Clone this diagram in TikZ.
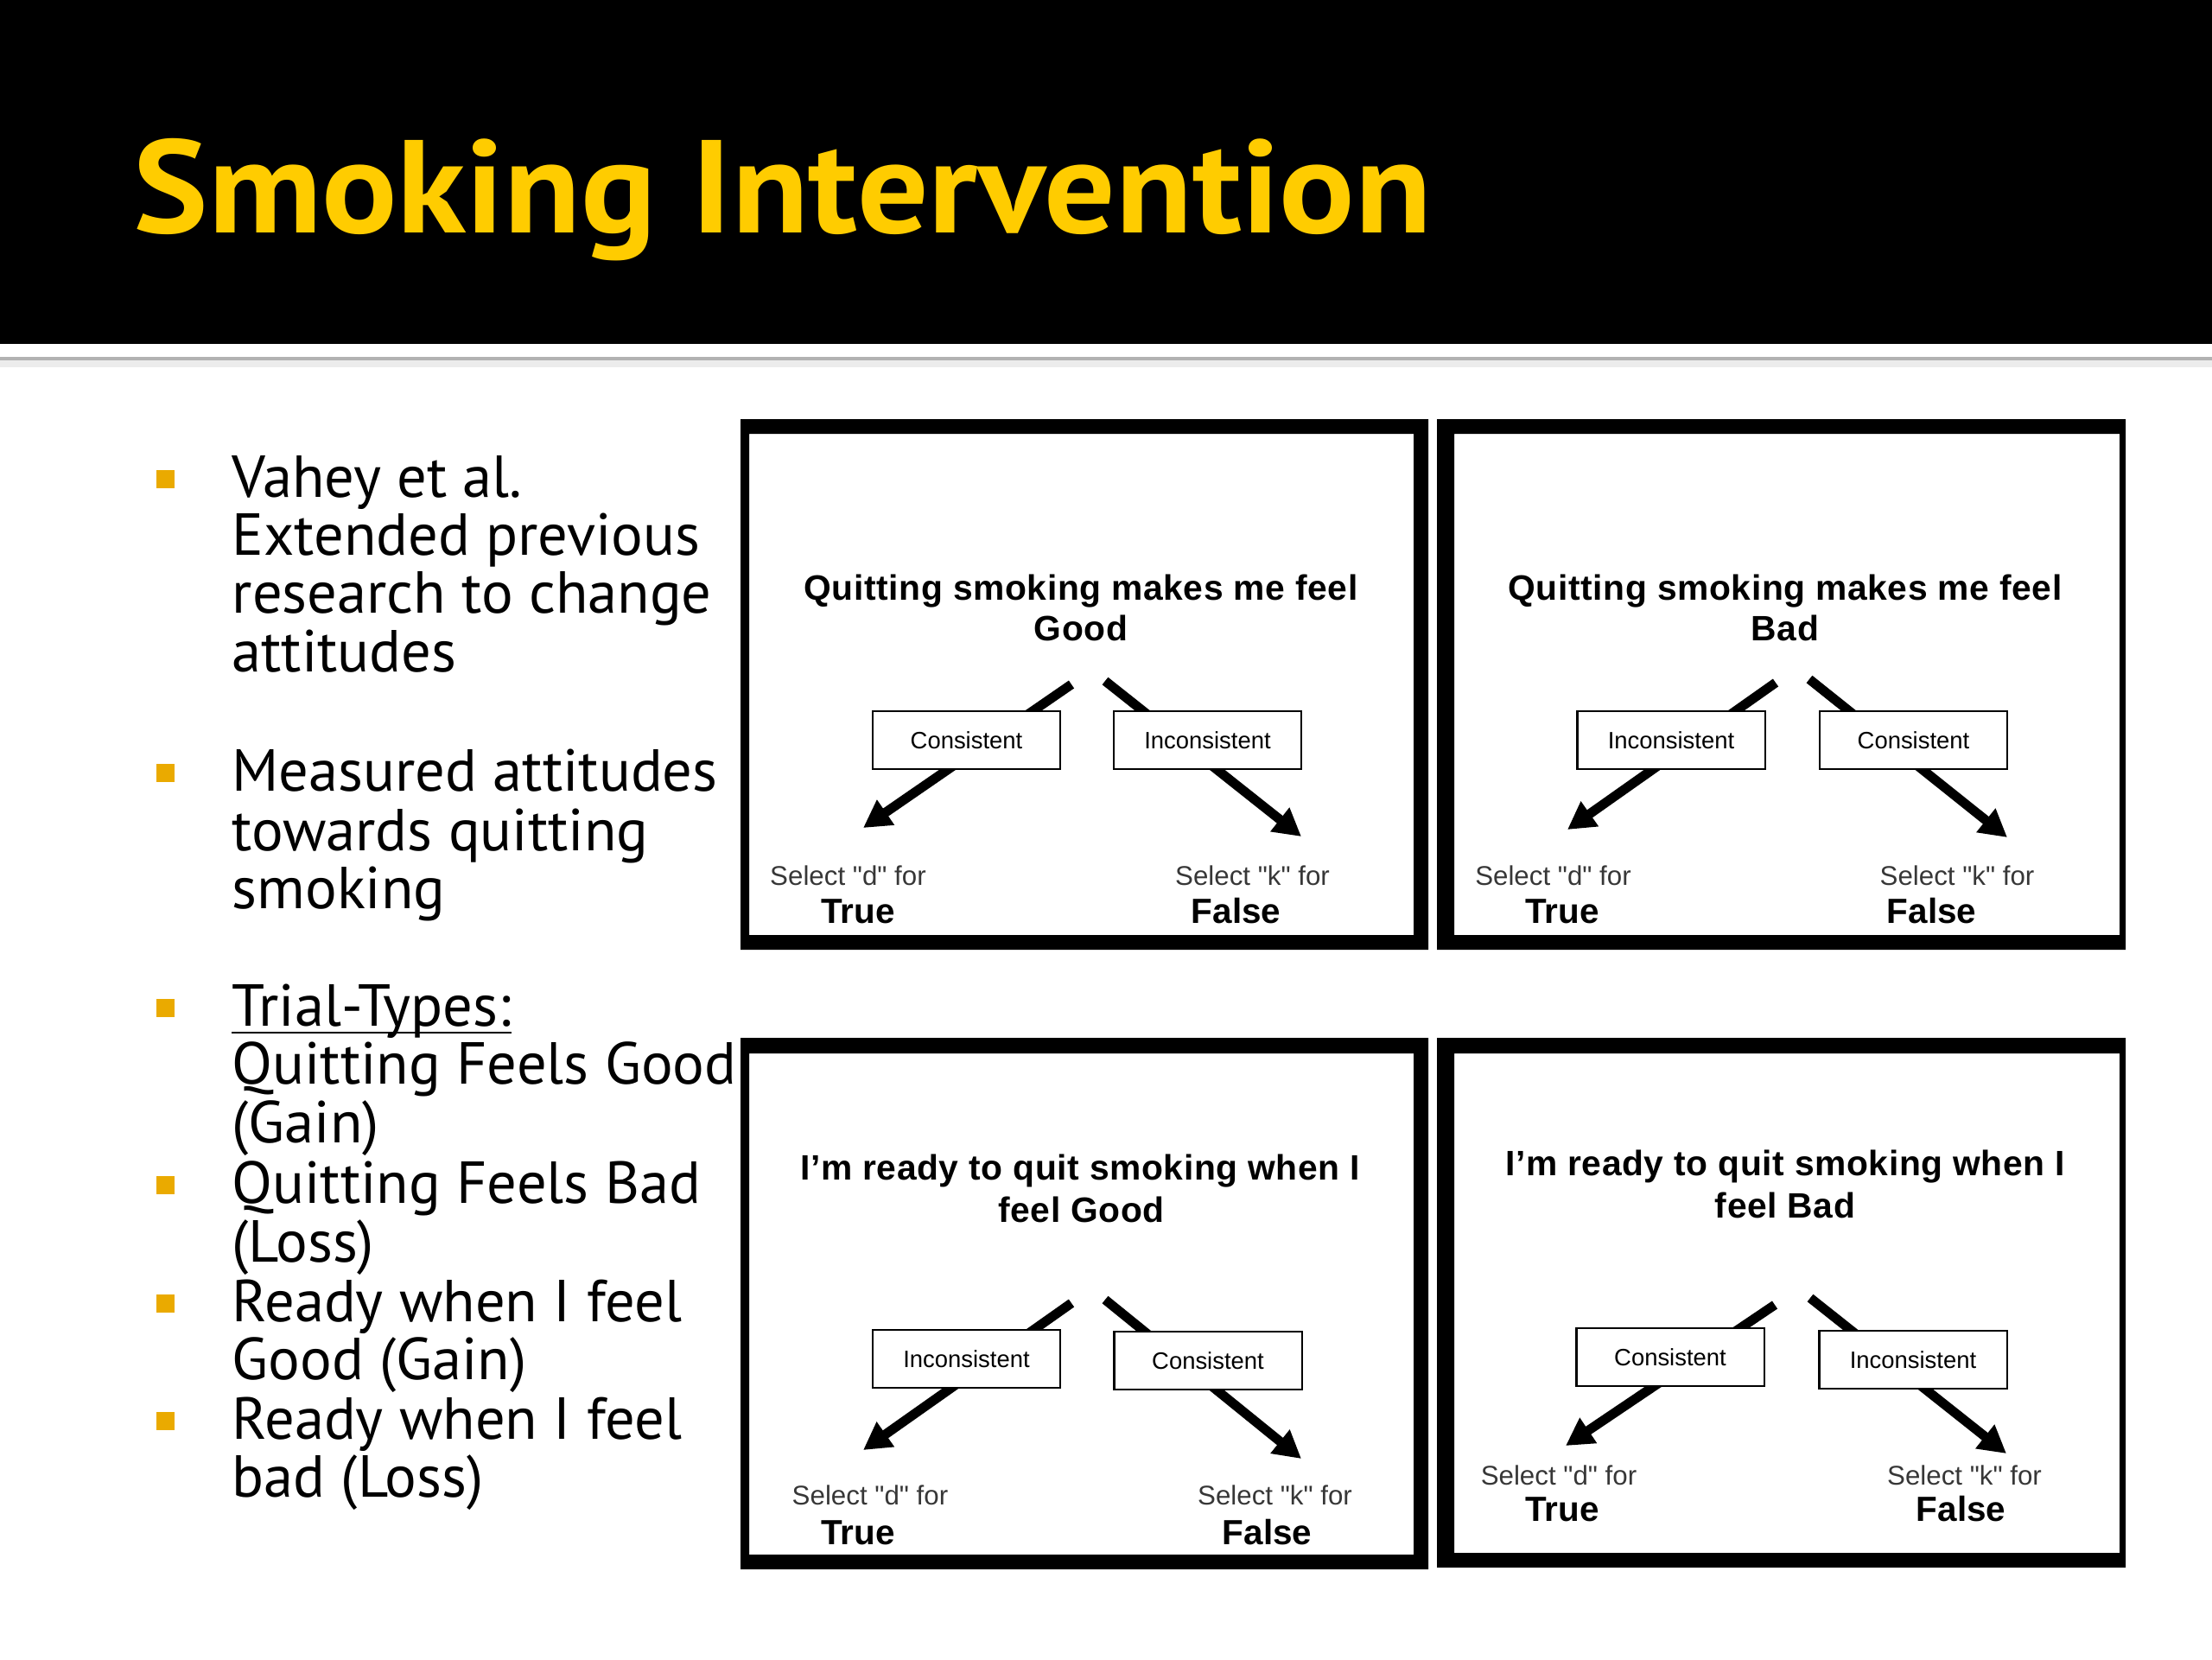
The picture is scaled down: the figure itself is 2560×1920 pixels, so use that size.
\documentclass[tikz,border=0pt]{standalone}
\usepackage{fontspec}
\setmainfont{PT Sans}
\newfontfamily\headfont[FakeStretch=1.065]{PT Sans}
\newfontfamily\panelfont{Liberation Sans}
\newfontfamily\questionfont[LetterSpace=1.5]{Liberation Sans}
\usepackage{tikz}
\usetikzlibrary{arrows.meta, calc}
\definecolor{titleyellow}{RGB}{255,204,0}
\definecolor{bulletgold}{RGB}{234,170,0}
\definecolor{keygrey}{RGB}{55,55,55}
\tikzset{
  slidetitle/.style={
    anchor=base west, inner sep=0pt, text=titleyellow,
    font=\headfont\bfseries\fontsize{43.5}{43.5}\selectfont
  },
  bodyline/.style={
    anchor=base west, inner sep=0pt,
    font=\fontsize{19.5}{19.5}\selectfont
  },
  paneltitle/.style={
    anchor=base, inner sep=0pt,
    font=\questionfont\bfseries\fontsize{11.6}{11.6}\selectfont
  },
  choicebox/.style={
    draw, line width=0.6pt, fill=white, inner sep=0pt,
    minimum width=2.17cm, minimum height=0.67cm,
    font=\panelfont\fontsize{7.8}{7.8}\selectfont
  },
  keylabel/.style={
    anchor=base, inner sep=0pt, text=keygrey,
    font=\panelfont\fontsize{8.9}{8.9}\selectfont
  },
  answerlabel/.style={
    anchor=base, inner sep=0pt,
    font=\panelfont\bfseries\fontsize{11.5}{11.5}\selectfont
  },
  choicearrow/.style={
    line width=3.1pt, -{Triangle[length=9pt, width=9.5pt]}
  },
}

\begin{document}
\begin{tikzpicture}[x=0.01cm, y=-0.01cm]
  \useasboundingbox (0,0) rectangle (2560,1920);

  % ── Header band ────────────────────────────────────────────────
  \fill[black] (0,0) rectangle (2560,398);
  \draw[line width=1.5pt, gray!60] (0,416) -- (2560,416);
  \draw[line width=2pt, gray!15] (0,421) -- (2560,421);
  \node[slidetitle] (title) at (154,269) {Smoking Intervention};

  % ── Bullet list ────────────────────────────────────────────────
  \foreach \yb in {575,915,1187,1392,1529,1665} {
    \fill[bulletgold] (181,{\yb-31}) rectangle ++(21,21);
  }
  \foreach \yb/\txt [count=\i] in {
      575/Vahey et al., 642/Extended previous, 709/research to change,
      777/attitudes, 915/Measured attitudes, 984/towards quitting,
      1051/smoking, 1187/Trial-Types:, 1254/Quitting Feels Good,
      1322/(Gain), 1392/Quitting Feels Bad, 1460/(Loss),
      1529/Ready when I feel, 1596/Good (Gain),
      1665/Ready when I feel, 1732/bad (Loss)} {
    \node[bodyline] (line\i) at (268,\yb) {\txt};
  }
  % underline under Trial-Types:
  \draw[line width=0.8pt] ($(line8.base west)+(0,8)$) -- ($(line8.base east)+(0,8)$);

  % ── Panel 1: quitting feels good ───────────────────────────────
  \fill[even odd rule] (857,485) rectangle (1653,1099) (867,502) rectangle (1636,1082);
  \coordinate (p1a) at (1240,792);
  \coordinate (p1b) at (1279,788);
  \coordinate (p1d) at (999,958);
  \coordinate (p1k) at (1506,968);
  \draw[choicearrow] (p1a) -- (p1d);
  \draw[choicearrow] (p1b) -- (p1k);
  \node[choicebox] (p1left) at (1118.5,856.5) {Consistent};
  \node[choicebox] (p1right) at (1397.5,856.5) {Inconsistent};
  \node[paneltitle] (p1q) at (1251,694) {Quitting smoking makes me feel};
  \node[paneltitle] (p1w) at (1251,741) {Good};
  \node[keylabel] (p1sd) at (981.5,1024) {Select "d" for};
  \node[answerlabel] (p1true) at (993,1068) {True};
  \node[keylabel] (p1sk) at (1449.5,1024) {Select "k" for};
  \node[answerlabel] (p1false) at (1430.5,1068) {False};

  % ── Panel 2: quitting feels bad ────────────────────────────────
  \fill[even odd rule] (1663,485) rectangle (2460,1099) (1683,502) rectangle (2453,1082);
  \coordinate (p2a) at (2055,790);
  \coordinate (p2b) at (2094,786);
  \coordinate (p2d) at (1814,960);
  \coordinate (p2k) at (2323,969);
  \draw[choicearrow] (p2a) -- (p2d);
  \draw[choicearrow] (p2b) -- (p2k);
  \node[choicebox] (p2left) at (1934,856.5) {Inconsistent};
  \node[choicebox] (p2right) at (2214.5,856.5) {Consistent};
  \node[paneltitle] (p2q) at (2066,694) {Quitting smoking makes me feel};
  \node[paneltitle] (p2w) at (2066,741) {Bad};
  \node[keylabel] (p2sd) at (1797.5,1024) {Select "d" for};
  \node[answerlabel] (p2true) at (1808,1068) {True};
  \node[keylabel] (p2sk) at (2265,1024) {Select "k" for};
  \node[answerlabel] (p2false) at (2235.5,1068) {False};

  % ── Panel 3: ready when I feel good ────────────────────────────
  \fill[even odd rule] (857,1201) rectangle (1653,1816) (867,1219) rectangle (1636,1799);
  \coordinate (p3a) at (1240,1508);
  \coordinate (p3b) at (1279,1504);
  \coordinate (p3d) at (999,1678);
  \coordinate (p3k) at (1506,1688);
  \draw[choicearrow] (p3a) -- (p3d);
  \draw[choicearrow] (p3b) -- (p3k);
  \node[choicebox] (p3left) at (1118.5,1572.5) {Inconsistent};
  \node[choicebox] (p3right) at (1398,1574.5) {Consistent};
  \node[paneltitle] (p3q) at (1250,1365) {I’m ready to quit smoking when I};
  \node[paneltitle] (p3w) at (1251.5,1414) {feel Good};
  \node[keylabel] (p3sd) at (1007,1741) {Select "d" for};
  \node[answerlabel] (p3true) at (993,1787) {True};
  \node[keylabel] (p3sk) at (1475.5,1741) {Select "k" for};
  \node[answerlabel] (p3false) at (1466.5,1787) {False};

  % ── Panel 4: ready when I feel bad ─────────────────────────────
  \fill[even odd rule] (1663,1201) rectangle (2460,1814) (1683,1219) rectangle (2453,1797);
  \coordinate (p4a) at (2054,1510);
  \coordinate (p4b) at (2095,1502);
  \coordinate (p4d) at (1812,1673);
  \coordinate (p4k) at (2322,1682);
  \draw[choicearrow] (p4a) -- (p4d);
  \draw[choicearrow] (p4b) -- (p4k);
  \node[choicebox] (p4left) at (1933,1570.5) {Consistent};
  \node[choicebox] (p4right) at (2214,1573.5) {Inconsistent};
  \node[paneltitle] (p4q) at (2066,1360) {I’m ready to quit smoking when I};
  \node[paneltitle] (p4w) at (2066,1409) {feel Bad};
  \node[keylabel] (p4sd) at (1804,1718) {Select "d" for};
  \node[answerlabel] (p4true) at (1808,1760) {True};
  \node[keylabel] (p4sk) at (2273.5,1718) {Select "k" for};
  \node[answerlabel] (p4false) at (2269.5,1760) {False};
\end{tikzpicture}
\end{document}
